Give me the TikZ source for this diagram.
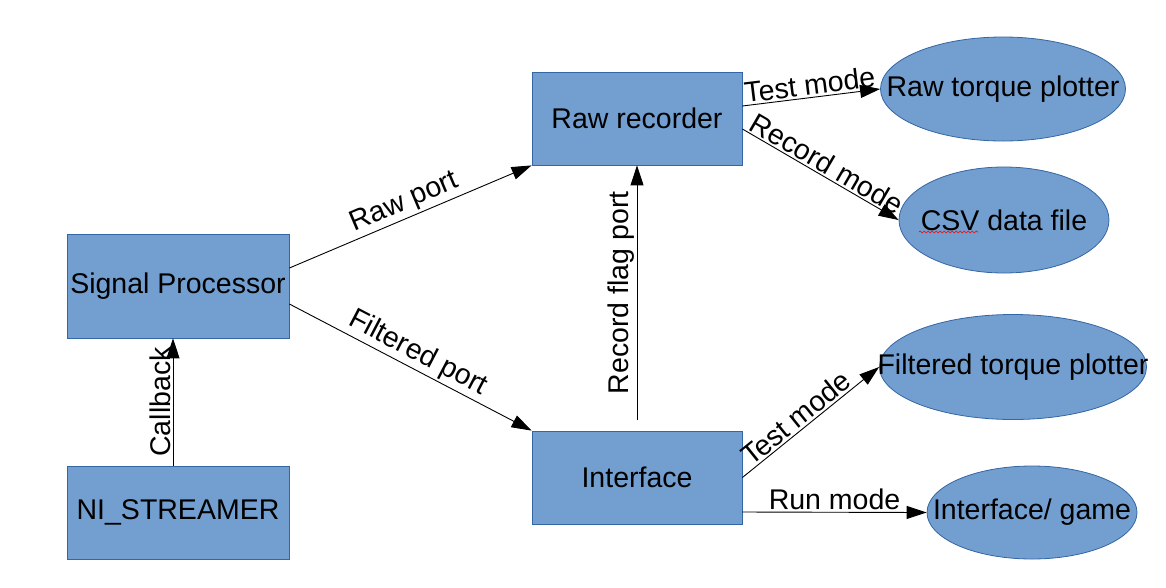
\documentclass[tikz,border=0pt]{standalone}
\usepackage{fontspec}
\setmainfont{Liberation Sans}
\usetikzlibrary{arrows.meta,shapes.geometric,decorations.pathmorphing}
\definecolor{boxfill}{HTML}{729FCF}
\definecolor{boxline}{HTML}{3465A4}
\tikzset{
  block/.style={rectangle,draw=boxline,fill=boxfill,line width=0.8pt,inner sep=0pt,font=\fontsize{28.5}{34}\selectfont},
  oval/.style={ellipse,draw=boxline,fill=boxfill,line width=0.8pt,inner sep=0pt,font=\fontsize{28.5}{34}\selectfont},
  conn/.style={line width=0.9pt,-{Triangle[length=20pt,width=13pt]}},
  lbl/.style={font=\fontsize{28.5}{34}\selectfont,sloped,above,inner sep=2pt}
}
\begin{document}
\begin{tikzpicture}[x=1pt,y=-1pt]
\useasboundingbox (0,0) rectangle (1166,587);
\node[block,minimum width=222pt,minimum height=104pt] (sp) at (178,286) {Signal Processor};
\node[block,minimum width=222pt,minimum height=93pt] (ni) at (178,512.5) {NI\_STREAMER};
\node[block,minimum width=210pt,minimum height=93pt] (rr) at (637,118.5) {Raw recorder};
\node[block,minimum width=210pt,minimum height=93pt] (if) at (637,477.5) {Interface};
\node[oval,minimum width=245pt,minimum height=104pt] (rtp) at (1003,89) {\makebox[0pt][c]{Raw torque plotter}};
\node[oval,minimum width=210pt,minimum height=106pt] (csv) at (1004,220) {\makebox[0pt][c]{CSV data file}};
\node[oval,minimum width=267pt,minimum height=105pt] (ftp) at (1013,367) {\makebox[0pt][c]{Filtered torque plotter}};
\node[oval,minimum width=210pt,minimum height=93pt] (ig) at (1032,512.5) {\makebox[0pt][c]{Interface/ game}};
\draw[red,line width=0.6pt,decorate,decoration={snake,segment length=4pt,amplitude=1pt}] (919,232) -- (978,232);
\coordinate (rf) at (637,420);
\draw[conn] ([xshift=-5pt]ni.north) -- node[lbl] {Callback} ([xshift=-5pt]sp.south);
\draw[conn] ([yshift=18pt]sp.east) -- node[lbl] {Raw port} (rr.south west);
\draw[conn] ([yshift=-18pt]sp.east) -- node[lbl] {Filtered port} (if.north west);
\draw[conn] (rf) -- node[lbl] {Record flag port} (rr.south);
\draw[conn] ([yshift=12.5pt]rr.east) -- node[lbl] {Test mode} (rtp.west);
\draw[conn] ([yshift=-10.5pt]rr.east) -- node[lbl] {Record mode} (csv.west);
\draw[conn] (if.east) -- node[lbl,pos=0.45] {Test mode} (ftp.west);
\draw[conn] ([yshift=-34.5pt]if.east) -- node[lbl] {Run mode} (ig.west);
\end{tikzpicture}
\end{document}
